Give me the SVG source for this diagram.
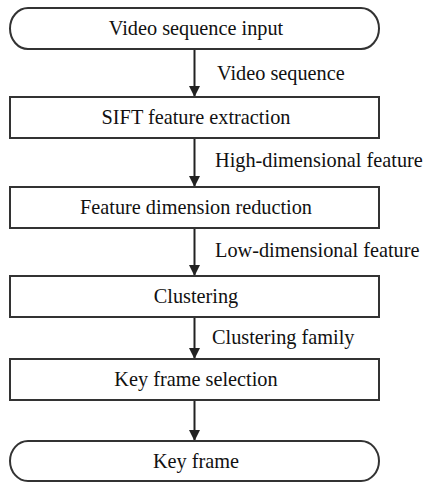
<svg xmlns="http://www.w3.org/2000/svg" width="424" height="483" viewBox="0 0 424 483">
<style>
.box{fill:#fff;stroke:#333;stroke-width:2}
.t{font-family:"Liberation Serif","Times New Roman",serif;font-size:20.3px;fill:#111}
.c{text-anchor:middle}
.edge{stroke:#222;stroke-width:2;fill:none}
</style>
<defs>
<marker id="ah" viewBox="0 0 10 10" refX="10" refY="5" markerWidth="11" markerHeight="12" markerUnits="userSpaceOnUse" orient="auto">
<path d="M0,0 L10,5 L0,10 Z" fill="#222"/>
</marker>
</defs>
<rect width="424" height="483" fill="#fff"/>
<g id="connectors">
<line class="edge" x1="194.5" y1="49" x2="194.5" y2="97" marker-end="url(#ah)"/>
<line class="edge" x1="194.5" y1="138" x2="194.5" y2="187" marker-end="url(#ah)"/>
<line class="edge" x1="194.5" y1="228" x2="194.5" y2="276" marker-end="url(#ah)"/>
<line class="edge" x1="194.5" y1="317" x2="194.5" y2="359" marker-end="url(#ah)"/>
<line class="edge" x1="194.5" y1="400" x2="194.5" y2="441" marker-end="url(#ah)"/>
<text class="t" x="217" y="80">Video sequence</text>
<text class="t" x="215" y="167">High-dimensional feature</text>
<text class="t" x="215" y="257">Low-dimensional feature</text>
<text class="t" x="212" y="344">Clustering family</text>
</g>
<g id="n1"><rect class="box" x="10" y="8" width="369" height="41" rx="18" ry="20.5"/><text class="t c" x="196" y="35">Video sequence input</text></g>
<g id="n2"><rect class="box" x="10" y="97" width="369" height="41"/><text class="t c" x="196" y="124">SIFT feature extraction</text></g>
<g id="n3"><rect class="box" x="10" y="187" width="369" height="41"/><text class="t c" x="196" y="214">Feature dimension reduction</text></g>
<g id="n4"><rect class="box" x="10" y="276" width="369" height="41"/><text class="t c" x="196" y="303">Clustering</text></g>
<g id="n5"><rect class="box" x="10" y="359" width="369" height="41"/><text class="t c" x="196" y="386">Key frame selection</text></g>
<g id="n6"><rect class="box" x="10" y="441" width="369" height="40" rx="18" ry="20"/><text class="t c" x="196" y="468">Key frame</text></g>
</svg>
